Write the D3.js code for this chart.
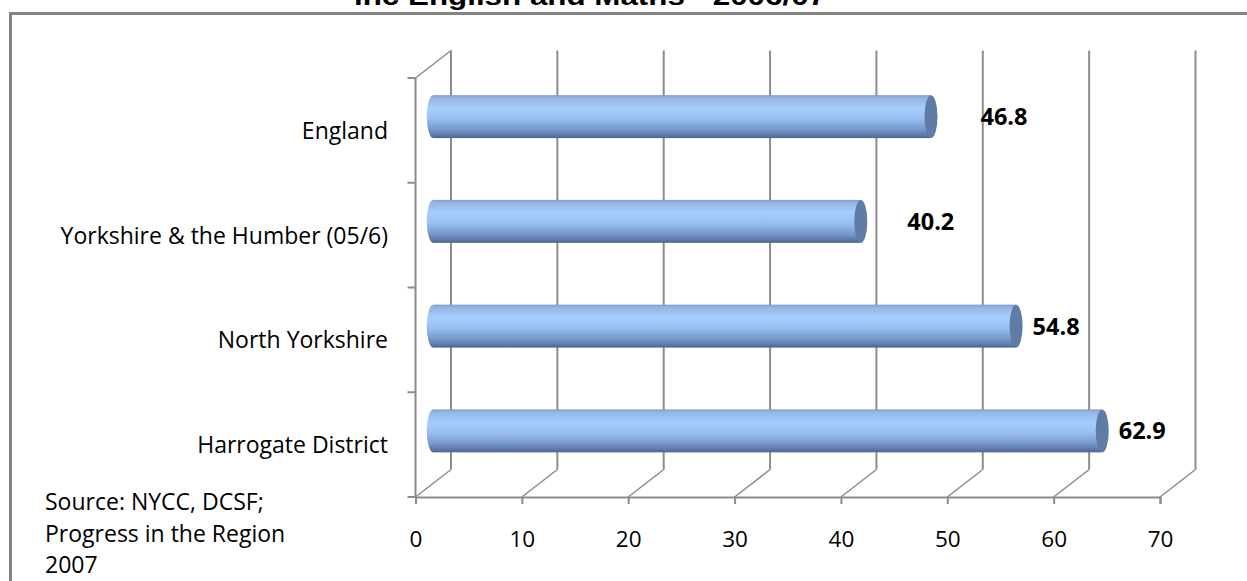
<!DOCTYPE html>
<html>
<head>
<meta charset="utf-8">
<script src="https://cdn.jsdelivr.net/npm/d3@7"></script>
<style>
  html, body { margin: 0; padding: 0; background: #fff; overflow: hidden; }
  svg { display: block; }
</style>
</head>
<body>
<svg id="chart" width="1247" height="581"></svg>
<script>
// ---- data ----
const categories = ["England", "Yorkshire & the Humber (05/6)", "North Yorkshire", "Harrogate District"];
const values = [46.8, 40.2, 54.8, 62.9];
const tickValues = [0, 10, 20, 30, 40, 50, 60, 70];
const titleText = "inc English and Maths - 2006/07";
const sourceLines = ["Source: NYCC, DCSF;", "Progress in the Region", "2007"];

// ---- layout ----
const svg = d3.select("#chart");
const W = 1247, H = 581;
const depthX = 35.5, depthY = -27.5;
const x = d3.scaleLinear().domain([0, 70]).range([415.5, 1160]);
const y = d3.scaleBand().domain(categories).range([78, 497]).padding(0);
const gridColor = "#8c8c8c";
const labelFont = "'Open Sans', Lato, sans-serif";
const labelNudge = [33, 30, 0, 0];

// frame
svg.append("rect")
  .attr("x", 10.5).attr("y", 13.5)
  .attr("width", W + 20).attr("height", H + 20)
  .attr("fill", "#fff").attr("stroke", "#858585").attr("stroke-width", 3);

// title (clipped at top, as in the source picture)
svg.append("text")
  .attr("x", 354).attr("y", 4.5)
  .attr("textLength", 472)
  .attr("lengthAdjust", "spacingAndGlyphs")
  .attr("font-family", "'Liberation Sans', Arial, sans-serif")
  .attr("font-weight", "bold")
  .attr("font-size", 26)
  .attr("fill", "#000")
  .text(titleText);

// gradient for cylinders
const defs = svg.append("defs");
const grad = defs.append("linearGradient").attr("id", "cyl")
  .attr("x1", 0).attr("y1", 0).attr("x2", 0).attr("y2", 1);
[
  [0, "#7f9cc6"], [0.06, "#93b5e2"], [0.3, "#a6cefc"], [0.55, "#98bff0"],
  [0.8, "#7597c9"], [0.93, "#5d7aa6"], [1, "#4a6690"]
].forEach(([o, c]) => grad.append("stop").attr("offset", o).attr("stop-color", c));

const g = svg.append("g");

// back gridlines
g.selectAll("line.grid").data(tickValues).join("line")
  .attr("class", "grid")
  .attr("x1", d => x(d) + depthX).attr("x2", d => x(d) + depthX)
  .attr("y1", y.range()[0] + depthY).attr("y2", y.range()[1] + depthY)
  .attr("stroke", gridColor).attr("stroke-width", 2);

// floor depth lines
g.selectAll("line.floor").data(tickValues).join("line")
  .attr("class", "floor")
  .attr("x1", d => x(d)).attr("y1", y.range()[1])
  .attr("x2", d => x(d) + depthX).attr("y2", y.range()[1] + depthY)
  .attr("stroke", gridColor).attr("stroke-width", 1.5);

// left wall top edge
g.append("line")
  .attr("x1", x(0)).attr("y1", y.range()[0])
  .attr("x2", x(0) + depthX).attr("y2", y.range()[0] + depthY)
  .attr("stroke", gridColor).attr("stroke-width", 1.5);

// left (category) axis
const yAxisG = g.append("g").attr("transform", `translate(${x(0)},0)`);
yAxisG.append("line")
  .attr("x1", 0).attr("x2", 0).attr("y1", y.range()[0]).attr("y2", y.range()[1])
  .attr("stroke", gridColor).attr("stroke-width", 2);
const bounds = categories.map(c => y(c)).concat([y.range()[1]]);
yAxisG.selectAll("line.ytick").data(bounds).join("line")
  .attr("class", "ytick")
  .attr("x1", -8).attr("x2", 0).attr("y1", d => d).attr("y2", d => d)
  .attr("stroke", gridColor).attr("stroke-width", 2);

// category labels
g.selectAll("text.cat").data(categories).join("text")
  .attr("class", "cat")
  .attr("x", 388)
  .attr("y", d => y(d) + y.bandwidth() / 2 + 8.5)
  .attr("text-anchor", "end")
  .attr("font-family", labelFont)
  .attr("font-size", 23)
  .attr("fill", "#000")
  .text(d => d);

// bottom (value) axis
const xAxis = d3.axisBottom(x).tickValues(tickValues).tickSize(7).tickPadding(27)
  .tickFormat(d3.format("d"));
const xAxisG = g.append("g").attr("transform", `translate(0,${y.range()[1]})`).call(xAxis);
xAxisG.select(".domain").attr("stroke", gridColor).attr("stroke-width", 2);
xAxisG.selectAll(".tick line").attr("stroke", gridColor).attr("stroke-width", 2);
xAxisG.selectAll(".tick text")
  .attr("font-family", labelFont).attr("font-size", 22.5).attr("fill", "#000");

// bars (cylinders)
const barH = y.bandwidth() * 0.41;
const rx = 6.5;
const bars = g.selectAll("g.bar").data(values).join("g").attr("class", "bar")
  .attr("transform", (d, i) => `translate(0,${y(categories[i]) + y.bandwidth() / 2 + depthY / 2})`);
bars.append("ellipse")
  .attr("cx", x(0) + depthX / 2).attr("cy", 0)
  .attr("rx", rx).attr("ry", barH / 2)
  .attr("fill", "url(#cyl)");
bars.append("rect")
  .attr("x", x(0) + depthX / 2).attr("y", -barH / 2)
  .attr("width", d => x(d) - x(0)).attr("height", barH)
  .attr("fill", "url(#cyl)");
bars.append("ellipse")
  .attr("cx", d => x(d) + depthX / 2).attr("cy", 0)
  .attr("rx", rx).attr("ry", barH / 2)
  .attr("fill", "#5e7ca6");

// value labels
bars.append("text")
  .attr("x", (d, i) => x(d) + depthX / 2 + rx + 10 + labelNudge[i])
  .attr("y", 8.5)
  .attr("font-family", labelFont)
  .attr("font-weight", "bold")
  .attr("font-size", 23.5)
  .attr("fill", "#000")
  .text(d => d.toFixed(1));

// source note
svg.append("text")
  .attr("font-family", labelFont)
  .attr("font-size", 23)
  .attr("fill", "#000")
  .selectAll("tspan").data(sourceLines).join("tspan")
  .attr("x", 45)
  .attr("y", (d, i) => 510 + i * 31.5)
  .text(d => d);
</script>
</body>
</html>
